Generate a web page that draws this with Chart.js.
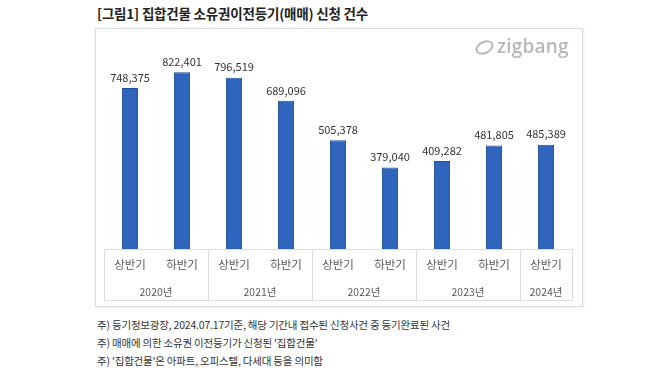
<!DOCTYPE html>
<html>
<head>
<meta charset="utf-8">
<script src="https://cdn.jsdelivr.net/npm/chart.js@4"></script>
<style>
    body { margin: 0; background: #fff; font-family: 'Noto Sans CJK KR', 'Noto Sans', sans-serif; }
    #page { position: relative; width: 658px; height: 370px; overflow: hidden; }
    #title { position: absolute; left: 97px; top: 3px; font-size: 13.5px; font-weight: bold; color: #222; letter-spacing: -0.2px; }
    #box { position: absolute; left: 95px; top: 28px; width: 486px; height: 277px; border: 1px solid #dcdcdc; box-shadow: 1px 1px 2px rgba(0,0,0,0.08); }
    #box canvas { position: absolute; left: 0; top: 0; }
    #logo { position: absolute; left: 497px; top: 33px; font-family: 'Open Sans', sans-serif; font-size: 19px; font-weight: 600; color: #b8b8b8; letter-spacing: 0.2px; }
    #ring { position: absolute; left: 475px; top: 41px; width: 15px; height: 9px; border: 2.5px solid #b8b8b8; border-radius: 50%; transform: rotate(-25deg); }
    .note { position: absolute; left: 97px; font-size: 10.5px; color: #333; letter-spacing: -0.2px; }
</style>
</head>
<body>
<div id="page">
    <div id="title">[그림1] 집합건물 소유권이전등기(매매) 신청 건수</div>
    <div id="box"><canvas id="chart" width="486" height="277"></canvas></div>
    <div id="ring"></div>
    <div id="logo">zigbang</div>
    <div class="note" style="top:317px">주) 등기정보광장, 2024.07.17기준, 해당 기간내 접수된 신청사건 중 등기완료된 사건</div>
    <div class="note" style="top:335px">주) 매매에 의한 소유권 이전등기가 신청된 '집합건물'</div>
    <div class="note" style="top:353px">주) '집합건물'은 아파트, 오피스텔, 다세대 등을 의미함</div>
</div>
<script>
// Chart data
const halves = ['상반기', '하반기', '상반기', '하반기', '상반기', '하반기', '상반기', '하반기', '상반기'];
const years = ['2020년', '2021년', '2022년', '2023년', '2024년'];
const yearSpans = [2, 2, 2, 2, 1];
const counts = [748375, 822401, 796519, 689096, 505378, 379040, 409282, 481805, 485389];

const textFont = "'Noto Sans CJK KR', 'Noto Sans', sans-serif";
const lineColor = '#dcdcdc';

// Draws value labels, category labels, year groups and table lines
const labelPlugin = {
    id: 'labelPlugin',
    afterDraw(chart) {
        const ctx = chart.ctx;
        const x = chart.scales.x;
        const area = chart.chartArea;
        const meta = chart.getDatasetMeta(0);
        const half = (x.getPixelForValue(1) - x.getPixelForValue(0)) / 2;
        const tableBottom = area.bottom + 51;

        ctx.save();
        ctx.textAlign = 'center';

        // values above bars
        ctx.fillStyle = '#333';
        ctx.font = '11px ' + textFont;
        ctx.textBaseline = 'bottom';
        meta.data.forEach((bar, i) => {
            ctx.fillText(counts[i].toLocaleString('en-US'), bar.x, bar.y - 5);
        });

        // half-year labels
        ctx.fillStyle = '#595959';
        ctx.textBaseline = 'middle';
        ctx.font = '11.5px ' + textFont;
        halves.forEach((h, i) => {
            ctx.fillText(h, x.getPixelForValue(i), area.bottom + 16);
        });

        // lines
        ctx.strokeStyle = lineColor;
        ctx.lineWidth = 1;
        ctx.beginPath();
        ctx.moveTo(area.left, area.bottom + 0.5);
        ctx.lineTo(area.right, area.bottom + 0.5);
        ctx.moveTo(area.left, tableBottom + 0.5);
        ctx.lineTo(area.right, tableBottom + 0.5);

        // year groups
        ctx.font = '10.5px ' + textFont;
        let idx = 0;
        years.forEach((y, g) => {
            const left = x.getPixelForValue(idx) - half;
            const right = x.getPixelForValue(idx + yearSpans[g] - 1) + half;
            ctx.fillText(y, (left + right) / 2, area.bottom + 43);
            ctx.moveTo(Math.round(left) + 0.5, area.bottom);
            ctx.lineTo(Math.round(left) + 0.5, tableBottom);
            ctx.moveTo(Math.round(right) + 0.5, area.bottom);
            ctx.lineTo(Math.round(right) + 0.5, tableBottom);
            idx += yearSpans[g];
        });
        ctx.stroke();
        ctx.restore();
    }
};

new Chart(document.getElementById('chart'), {
    type: 'bar',
    data: {
        labels: halves,
        datasets: [{
            data: counts,
            backgroundColor: '#2f65bd',
            borderColor: '#1f4f9a',
            borderWidth: 1,
            categoryPercentage: 1,
            barPercentage: 0.31
        }]
    },
    options: {
        responsive: false,
        animation: false,
        layout: { padding: { left: 8, right: 10, top: 5, bottom: 57 } },
        plugins: { legend: { display: false }, tooltip: { enabled: false } },
        scales: {
            x: { display: false },
            y: { display: false, min: 0, max: 1000000 }
        }
    },
    plugins: [labelPlugin]
});
</script>
</body>
</html>
